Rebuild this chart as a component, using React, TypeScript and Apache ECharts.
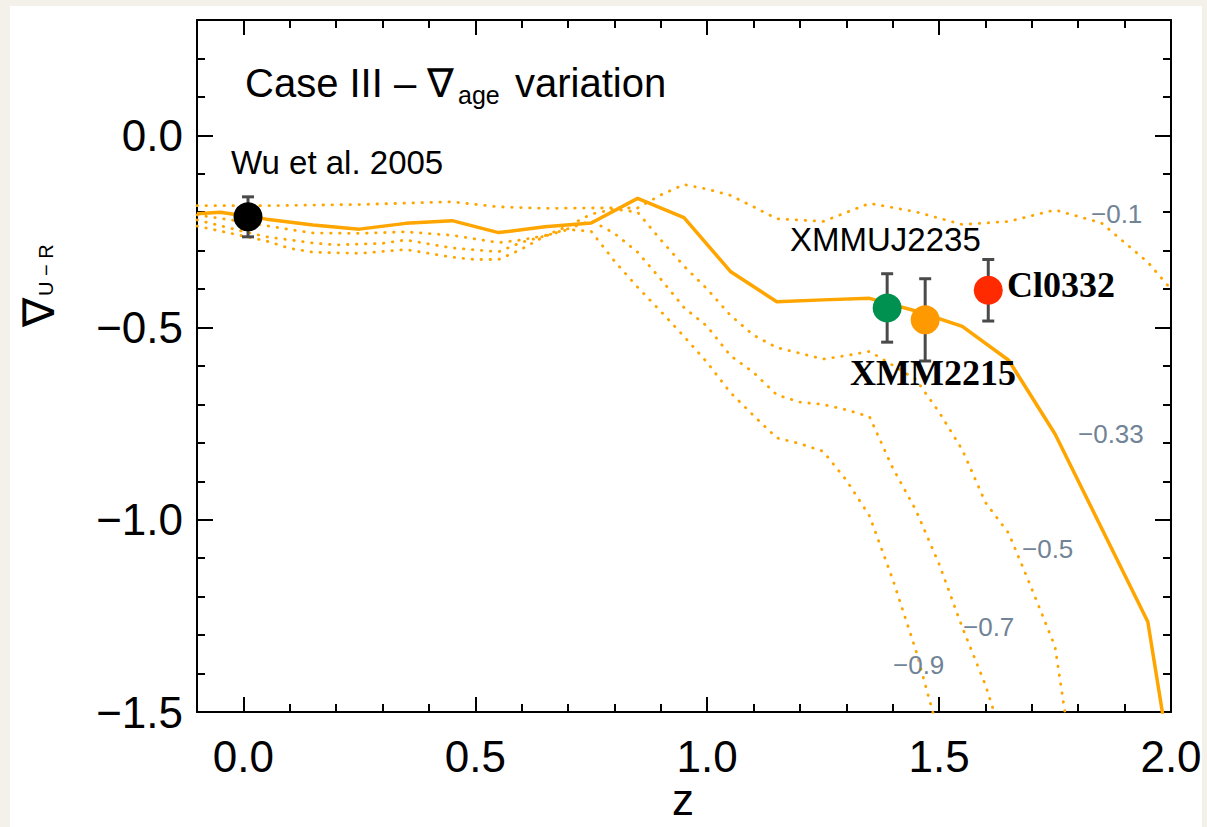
import React, { useEffect, useRef } from 'react';
import * as echarts from 'echarts';

// Model tracks of the U−R colour gradient versus redshift, one per age gradient.
// Solid track: ∇age = −0.33
const solidZ = [-0.1, -0.05, 0.05, 0.15, 0.25, 0.35, 0.45, 0.55, 0.65, 0.75, 0.85, 0.95, 1.05, 1.15, 1.25, 1.35, 1.45, 1.55, 1.65, 1.75, 1.95, 2.0];
const solidGrad = [-0.204, -0.2, -0.218, -0.233, -0.244, -0.229, -0.222, -0.253, -0.238, -0.228, -0.164, -0.214, -0.354, -0.433, -0.428, -0.424, -0.457, -0.497, -0.585, -0.777, -1.265, -1.64];

// Dotted tracks
const age01Z = [-0.1, 0.05, 0.25, 0.45, 0.55, 0.65, 0.75, 0.85, 0.9, 0.95, 1.0, 1.05, 1.1, 1.15, 1.25, 1.35, 1.45, 1.55, 1.65, 1.75, 1.85, 1.95, 2.0];
const age01Grad = [-0.183, -0.183, -0.18, -0.173, -0.186, -0.19, -0.189, -0.189, -0.155, -0.128, -0.14, -0.156, -0.186, -0.217, -0.224, -0.177, -0.199, -0.232, -0.224, -0.194, -0.228, -0.33, -0.4];

const age05Z = [-0.1, 0.0, 0.1, 0.15, 0.25, 0.35, 0.45, 0.55, 0.6, 0.65, 0.7, 0.75, 0.8, 0.85, 0.9, 0.95, 1.0, 1.05, 1.1, 1.15, 1.2, 1.25, 1.3, 1.35, 1.4, 1.45, 1.5, 1.55, 1.6, 1.65, 1.7, 1.75, 1.8];
const age05Grad = [-0.207, -0.225, -0.245, -0.254, -0.255, -0.251, -0.26, -0.279, -0.272, -0.261, -0.236, -0.205, -0.192, -0.2, -0.272, -0.34, -0.4, -0.468, -0.52, -0.552, -0.567, -0.582, -0.573, -0.562, -0.598, -0.635, -0.72, -0.818, -0.955, -1.035, -1.18, -1.33, -1.73];

const age07Z = [-0.1, 0.0, 0.05, 0.15, 0.2, 0.3, 0.35, 0.45, 0.5, 0.55, 0.6, 0.65, 0.7, 0.75, 0.8, 0.85, 0.9, 0.95, 1.0, 1.05, 1.1, 1.15, 1.2, 1.25, 1.3, 1.35, 1.4, 1.45, 1.5, 1.55, 1.6, 1.65];
const age07Grad = [-0.22, -0.25, -0.264, -0.28, -0.285, -0.281, -0.272, -0.293, -0.298, -0.303, -0.278, -0.262, -0.243, -0.222, -0.255, -0.304, -0.374, -0.448, -0.497, -0.573, -0.617, -0.675, -0.694, -0.7, -0.714, -0.732, -0.865, -0.975, -1.115, -1.28, -1.43, -1.62];

const age09Z = [-0.1, 0.0, 0.05, 0.1, 0.15, 0.25, 0.35, 0.45, 0.5, 0.55, 0.6, 0.65, 0.7, 0.75, 0.8, 0.85, 0.9, 0.95, 1.0, 1.05, 1.1, 1.15, 1.2, 1.25, 1.3, 1.35, 1.4, 1.45, 1.5];
const age09Grad = [-0.236, -0.262, -0.275, -0.294, -0.304, -0.307, -0.297, -0.317, -0.323, -0.323, -0.296, -0.262, -0.245, -0.25, -0.327, -0.395, -0.458, -0.523, -0.591, -0.669, -0.729, -0.787, -0.802, -0.822, -0.897, -0.99, -1.155, -1.34, -1.56];

// Observed clusters
const obsNames = ['Wu et al. 2005', 'XMMUJ2235', 'XMM2215', 'Cl0332'];
const obsZ = [0.01, 1.388, 1.47, 1.606];
const obsGrad = [-0.212, -0.449, -0.48, -0.403];
const obsErr = [0.052, 0.089, 0.107, 0.08];
const obsColors = ['#000000', '#009150', '#ff9900', '#ff2a00'];

// Axis ticks
const xMajorTicks = [0.0, 0.5, 1.0, 1.5, 2.0];
const xMinorTicks = [0.1, 0.2, 0.3, 0.4, 0.6, 0.7, 0.8, 0.9, 1.1, 1.2, 1.3, 1.4, 1.6, 1.7, 1.8, 1.9];
const yMajorTicks = [-1.5, -1.0, -0.5, 0.0];
const yMinorTicks = [-1.4, -1.3, -1.2, -1.1, -0.9, -0.8, -0.7, -0.6, -0.4, -0.3, -0.2, -0.1, 0.1, 0.2];

// Track labels (∇age values)
const trackLabels = ['\u22120.1', '\u22120.33', '\u22120.5', '\u22120.7', '\u22120.9'];

const SANS = '"Liberation Sans", Arial, Helvetica, sans-serif';
const SERIF = '"Liberation Serif", "Times New Roman", Times, serif';
const ORANGE = '#ffa500';
const SLATE = '#718396';

const fmtTick = (v: number) => (v < 0 ? '\u2212' + (-v).toFixed(1) : v.toFixed(1));
const pairs = (zs: number[], gs: number[]) => zs.map((z, i) => [z, gs[i]]);

function frameAxis(
  min: number,
  max: number,
  position: string,
  ticks: number[],
  tickLen: number,
  showLine: boolean,
  label: any,
) {
  return {
    type: 'value',
    min,
    max,
    position,
    silent: true,
    splitLine: { show: false },
    axisPointer: { show: false },
    axisLine: { show: showLine, onZero: false, lineStyle: { color: '#000', width: 2 } },
    axisTick: {
      show: true,
      inside: true,
      length: tickLen,
      customValues: ticks,
      lineStyle: { color: '#000', width: 2 },
    },
    axisLabel: label
      ? {
          show: true,
          customValues: ticks,
          formatter: fmtTick,
          fontSize: 44,
          fontFamily: SANS,
          color: '#000',
          margin: label.margin,
        }
      : { show: false },
  };
}

function txt(text: string, x: number, y: number, font: string, fill: string, align = 'left', lineHeight?: number) {
  const style: any = { text, x, y, font, fill, align, verticalAlign: 'middle' };
  if (lineHeight) style.lineHeight = lineHeight;
  return { type: 'text', silent: true, z: 20, style };
}

const dottedStyle = { color: ORANGE, width: 2.8, type: [0.5, 8.5], cap: 'round' };

export default function App() {
  const ref = useRef<HTMLDivElement>(null);

  useEffect(() => {
    const chart = echarts.init(ref.current!, null, { renderer: 'svg' });

    const trackSeries = (name: string, zs: number[], gs: number[], lineStyle: any) => ({
      name,
      type: 'line',
      xAxisIndex: 0,
      yAxisIndex: 0,
      data: pairs(zs, gs),
      symbol: 'none',
      showSymbol: false,
      clip: true,
      silent: true,
      z: 2,
      lineStyle,
    });

    const option: any = {
      animation: false,
      backgroundColor: '#f4f1ea',
      grid: { left: 197, right: 36, top: 20, bottom: 115, containLabel: false },
      xAxis: [
        frameAxis(-0.1, 2.0, 'bottom', xMajorTicks, 15, true, { margin: 22 }),
        frameAxis(-0.1, 2.0, 'bottom', xMinorTicks, 8, false, null),
        frameAxis(-0.1, 2.0, 'top', xMajorTicks, 15, true, null),
        frameAxis(-0.1, 2.0, 'top', xMinorTicks, 8, false, null),
      ],
      yAxis: [
        frameAxis(-1.5, 0.3, 'left', yMajorTicks, 16, true, { margin: 14 }),
        frameAxis(-1.5, 0.3, 'left', yMinorTicks, 8, false, null),
        frameAxis(-1.5, 0.3, 'right', yMajorTicks, 16, true, null),
        frameAxis(-1.5, 0.3, 'right', yMinorTicks, 8, false, null),
      ],
      series: [
        trackSeries('age -0.1', age01Z, age01Grad, dottedStyle),
        trackSeries('age -0.5', age05Z, age05Grad, dottedStyle),
        trackSeries('age -0.7', age07Z, age07Grad, dottedStyle),
        trackSeries('age -0.9', age09Z, age09Grad, dottedStyle),
        trackSeries('age -0.33', solidZ, solidGrad, { color: ORANGE, width: 3.5, type: 'solid' }),
        {
          name: 'error bars',
          type: 'custom',
          xAxisIndex: 0,
          yAxisIndex: 0,
          silent: true,
          z: 4,
          data: obsZ.map((z, i) => [z, obsGrad[i] - obsErr[i], obsGrad[i] + obsErr[i]]),
          renderItem: (_params: any, api: any) => {
            const lo = api.coord([api.value(0), api.value(1)]);
            const hi = api.coord([api.value(0), api.value(2)]);
            const cap = 6;
            const style = { stroke: '#4a4a4a', lineWidth: 3 };
            return {
              type: 'group',
              children: [
                { type: 'line', shape: { x1: lo[0], y1: lo[1], x2: hi[0], y2: hi[1] }, style },
                { type: 'line', shape: { x1: lo[0] - cap, y1: lo[1], x2: lo[0] + cap, y2: lo[1] }, style },
                { type: 'line', shape: { x1: hi[0] - cap, y1: hi[1], x2: hi[0] + cap, y2: hi[1] }, style },
              ],
            };
          },
        },
        {
          name: 'clusters',
          type: 'scatter',
          xAxisIndex: 0,
          yAxisIndex: 0,
          symbol: 'circle',
          symbolSize: 29,
          silent: true,
          z: 5,
          data: obsZ.map((z, i) => ({
            name: obsNames[i],
            value: [z, obsGrad[i]],
            itemStyle: { color: obsColors[i], opacity: 1 },
          })),
        },
      ],
      graphic: [
        {
          type: 'rect',
          silent: true,
          z: -100,
          shape: { x: 10, y: 6, width: 1192, height: 830 },
          style: { fill: '#ffffff' },
        },
        // title
        txt('Case III \u2013 \u2207', 245, 83, `40px ${SANS}`, '#000'),
        txt('age', 458, 95, `25px ${SANS}`, '#000'),
        txt('variation', 515, 83, `40px ${SANS}`, '#000'),
        // cluster names
        txt(obsNames[0], 231, 162, `33px ${SANS}`, '#000'),
        txt(obsNames[1], 790, 239, `33px ${SANS}`, '#000'),
        txt(obsNames[2], 850, 373, `bold 36px ${SERIF}`, '#000'),
        txt(obsNames[3], 1007, 285, `bold 36px ${SERIF}`, '#000'),
        // track labels
        txt(trackLabels[0], 1091, 214, `26px ${SANS}`, SLATE),
        txt(trackLabels[1], 1078, 434, `26px ${SANS}`, SLATE),
        txt(trackLabels[2], 1022, 549, `26px ${SANS}`, SLATE),
        txt(trackLabels[3], 963, 627, `26px ${SANS}`, SLATE),
        txt(trackLabels[4], 893, 665, `26px ${SANS}`, SLATE),
        // axis titles
        txt('z', 683, 799, `44px ${SANS}`, '#000', 'center', 30),
        {
          type: 'group',
          x: 53,
          y: 327,
          rotation: Math.PI / 2,
          silent: true,
          children: [
            txt('\u2207', 0, -15, `44px ${SANS}`, '#000'),
            txt('U \u2212 R', 31, -7, `20px ${SANS}`, '#000'),
          ],
        },
      ],
    };

    chart.setOption(option);
    return () => chart.dispose();
  }, []);

  return (
    <div
      ref={ref}
      style={{ position: 'fixed', left: 0, top: 0, width: 1207, height: 827 }}
    />
  );
}
